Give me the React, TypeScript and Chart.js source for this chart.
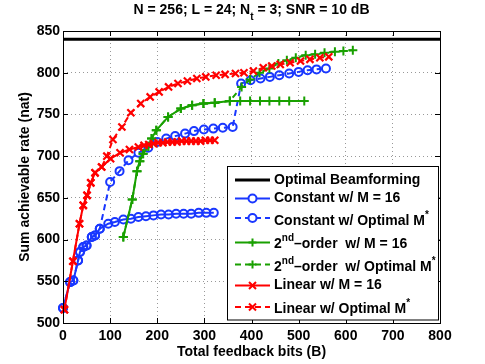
import React, { useEffect, useRef } from "react";
import { Chart, registerables } from "chart.js";

Chart.register(...registerables);

// ---------- data ----------
const optimalX = [0, 800];
const optimalY = [840, 840];

const constM16X = [0, 15, 22, 32, 36, 43, 50, 61, 68, 78, 96, 110, 128, 144, 160, 176, 192, 208, 224, 240, 256, 272, 288, 304, 320];
const constM16Y = [518, 549, 551, 575, 585, 591, 593, 603, 605, 613, 619, 621, 624, 625, 627, 628, 629, 630, 630, 631, 631, 631, 632, 632, 632];

const constOptX = [0, 15, 22, 32, 36, 43, 50, 61, 68, 78, 100, 120, 139, 160, 181, 200, 219, 238, 259, 278, 299, 319, 339, 360, 378, 398, 419, 439, 459, 480, 500, 519, 538, 558];
const constOptY = [518, 549, 551, 575, 585, 591, 593, 603, 605, 613, 669, 682, 695, 704, 710, 717, 721, 724, 727, 730, 732, 733, 734, 735, 787, 791, 793, 795, 797, 799, 801, 803, 804, 805];

const secondM16X = [128, 147, 157, 163, 170, 181, 188, 198, 223, 250, 274, 298, 322, 354, 376, 397, 418, 438, 459, 480, 512];
const secondM16Y = [603, 648, 682, 694, 703, 712, 721, 731, 747, 757, 761, 763, 764, 766, 766, 766, 766, 766, 766, 766, 766];

const secondOptX = [128, 147, 157, 163, 170, 181, 188, 198, 223, 250, 274, 298, 322, 354, 379, 397, 417, 438, 457, 475, 494, 515, 535, 555, 577, 595, 615];
const secondOptY = [603, 648, 682, 694, 703, 712, 721, 731, 747, 757, 761, 763, 764, 766, 783, 792, 800, 805, 811, 815, 818, 821, 822, 824, 825, 826, 827];

const linM16X = [3, 21, 35, 43, 51, 59, 68, 82, 101, 121, 141, 160, 172, 182, 192, 202, 212, 222, 232, 242, 252, 262, 272, 282, 292, 302, 312, 322];
const linM16Y = [516, 574, 619, 641, 653, 668, 680, 687, 697, 704, 708, 711, 713, 714, 715, 716, 716, 717, 717, 717, 718, 718, 718, 718, 718, 719, 719, 719];

const linOptX = [3, 21, 35, 43, 51, 59, 68, 82, 93, 106, 125, 144, 165, 185, 204, 224, 244, 264, 284, 303, 325, 344, 366, 384, 404, 425, 443, 461, 482, 504, 524, 545, 564];
const linOptY = [516, 574, 619, 641, 653, 668, 680, 687, 700, 720, 735, 752, 763, 771, 777, 783, 787, 790, 793, 795, 797, 798, 799, 800, 802, 806, 808, 810, 812, 814, 816, 818, 819];

const xTickValues = [0, 100, 200, 300, 400, 500, 600, 700, 800];
const yTickValues = [500, 550, 600, 650, 700, 750, 800, 850];

const titleMain1 = "N = 256; L = 24; N";
const titleSub = "t";
const titleMain2 = " = 3; SNR = 10 dB";
const xTitle = "Total feedback bits (B)";
const yTitle = "Sum achievable rate (nat)";

// ---------- styling ----------
const FONT = '"Liberation Sans", Arial, Helvetica, sans-serif';
const BLUE = "rgb(25,55,255)";
const GREEN = "rgb(25,160,0)";
const RED = "rgb(255,0,0)";
const DASH = [6, 4];

type Part = { t: string; sup?: boolean };
type LegendRow = { parts: Part[]; color: string; dash: number[]; marker: string | null; lineY: number; textY: number; width: number };

const legendRows: LegendRow[] = [
  { parts: [{ t: "Optimal Beamforming" }], color: "#000", dash: [], marker: null, lineY: 180, textY: 180, width: 3 },
  { parts: [{ t: "Constant w/ M = 16" }], color: BLUE, dash: [], marker: "circle", lineY: 198.5, textY: 198.5, width: 2 },
  { parts: [{ t: "Constant w/ Optimal M" }, { t: "*", sup: true }], color: BLUE, dash: DASH, marker: "circle", lineY: 218, textY: 221.5, width: 2 },
  { parts: [{ t: "2" }, { t: "nd", sup: true }, { t: "\u2013order  w/ M = 16" }], color: GREEN, dash: [], marker: "cross", lineY: 242.5, textY: 244.5, width: 2 },
  { parts: [{ t: "2" }, { t: "nd", sup: true }, { t: "\u2013order  w/ Optimal M" }, { t: "*", sup: true }], color: GREEN, dash: DASH, marker: "cross", lineY: 264.5, textY: 267, width: 2 },
  { parts: [{ t: "Linear w/ M = 16" }], color: RED, dash: [], marker: "crossRot", lineY: 285.5, textY: 285.5, width: 2 },
  { parts: [{ t: "Linear w/ Optimal M" }, { t: "*", sup: true }], color: RED, dash: DASH, marker: "crossRot", lineY: 307, textY: 309.5, width: 2 },
];

function pts(xs: number[], ys: number[]) {
  return xs.map((x, i) => ({ x, y: ys[i] }));
}

function drawMarker(ctx: CanvasRenderingContext2D, kind: string, x: number, y: number, color: string) {
  ctx.save();
  ctx.setLineDash([]);
  ctx.strokeStyle = color;
  ctx.lineWidth = 2;
  ctx.beginPath();
  if (kind === "circle") {
    ctx.lineWidth = 2;
    ctx.fillStyle = "#fff";
    ctx.arc(x, y, 4, 0, Math.PI * 2);
    ctx.fill();
    ctx.stroke();
  } else if (kind === "cross") {
    ctx.moveTo(x - 4, y);
    ctx.lineTo(x + 4, y);
    ctx.moveTo(x, y - 4);
    ctx.lineTo(x, y + 4);
    ctx.stroke();
  } else if (kind === "crossRot") {
    ctx.moveTo(x - 3.5, y - 3.5);
    ctx.lineTo(x + 3.5, y + 3.5);
    ctx.moveTo(x + 3.5, y - 3.5);
    ctx.lineTo(x - 3.5, y + 3.5);
    ctx.stroke();
  }
  ctx.restore();
}

function drawParts(ctx: CanvasRenderingContext2D, parts: Part[], x: number, y: number) {
  let cx = x;
  for (const p of parts) {
    if (p.sup) {
      ctx.font = `bold 10px ${FONT}`;
      ctx.fillText(p.t, cx, y - 6);
    } else {
      ctx.font = `bold 14px ${FONT}`;
      ctx.fillText(p.t, cx, y);
    }
    cx += ctx.measureText(p.t).width;
  }
}

const decorPlugin = {
  id: "matlabDecor",
  afterDraw(chart: any) {
    const ctx: CanvasRenderingContext2D = chart.ctx;
    const a = chart.chartArea;
    const xs = chart.scales.x;
    const ys = chart.scales.y;
    ctx.save();
    // box
    ctx.strokeStyle = "#000";
    ctx.lineWidth = 1;
    ctx.setLineDash([]);
    ctx.strokeRect(Math.round(a.left) + 0.5, Math.round(a.top) + 0.5, Math.round(a.right - a.left), Math.round(a.bottom - a.top));
    // inward ticks
    ctx.beginPath();
    for (const v of xTickValues) {
      const px = Math.round(xs.getPixelForValue(v)) + 0.5;
      ctx.moveTo(px, a.bottom);
      ctx.lineTo(px, a.bottom - 5);
      ctx.moveTo(px, a.top);
      ctx.lineTo(px, a.top + 5);
    }
    for (const v of yTickValues) {
      const py = Math.round(ys.getPixelForValue(v)) + 0.5;
      ctx.moveTo(a.left, py);
      ctx.lineTo(a.left + 5, py);
      ctx.moveTo(a.right, py);
      ctx.lineTo(a.right - 5, py);
    }
    ctx.stroke();

    // legend
    const lx = 227.5, ly = 166.5, lw = 211, lh = 153.5;
    ctx.fillStyle = "#fff";
    ctx.fillRect(lx, ly, lw, lh);
    ctx.strokeStyle = "#000";
    ctx.lineWidth = 1;
    ctx.strokeRect(lx, ly, lw, lh);
    for (const r of legendRows) {
      ctx.save();
      ctx.strokeStyle = r.color;
      ctx.lineWidth = r.width;
      ctx.setLineDash(r.dash);
      ctx.beginPath();
      ctx.moveTo(235, r.lineY);
      ctx.lineTo(270, r.lineY);
      ctx.stroke();
      ctx.restore();
      if (r.marker) drawMarker(ctx, r.marker, 252.5, r.lineY, r.color);
      ctx.fillStyle = "#000";
      ctx.textBaseline = "middle";
      ctx.textAlign = "left";
      drawParts(ctx, r.parts, 274, r.textY);
    }

    // title with subscript
    ctx.fillStyle = "#000";
    ctx.textBaseline = "alphabetic";
    ctx.textAlign = "left";
    ctx.font = `bold 14px ${FONT}`;
    const w1 = ctx.measureText(titleMain1).width;
    const w3 = ctx.measureText(titleMain2).width;
    ctx.font = `bold 10px ${FONT}`;
    const w2 = ctx.measureText(titleSub).width;
    const total = w1 + w2 + w3;
    const cxm = (a.left + a.right) / 2;
    let tx = cxm - total / 2;
    ctx.font = `bold 14px ${FONT}`;
    ctx.fillText(titleMain1, tx, 14);
    tx += w1;
    ctx.font = `bold 10px ${FONT}`;
    ctx.fillText(titleSub, tx, 19.5);
    tx += w2;
    ctx.font = `bold 14px ${FONT}`;
    ctx.fillText(titleMain2, tx, 14);

    // axis titles
    ctx.textAlign = "center";
    ctx.textBaseline = "middle";
    ctx.fillText(xTitle, cxm, 352);
    ctx.save();
    ctx.translate(25, (a.top + a.bottom) / 2);
    ctx.rotate(-Math.PI / 2);
    ctx.fillText(yTitle, 0, 0);
    ctx.restore();
    ctx.restore();
  },
};

export default function App() {
  const ref = useRef<HTMLCanvasElement | null>(null);
  useEffect(() => {
    if (!ref.current) return;
    Chart.defaults.font.family = FONT;
    const base = { clip: 8, tension: 0, fill: false, pointHoverRadius: 0 };
    const circ = { pointStyle: "circle", pointRadius: 4, pointBorderWidth: 2, pointBorderColor: BLUE, pointBackgroundColor: "rgba(255,255,255,0)" };
    const plus = { pointStyle: "cross", pointRadius: 4.5, pointBorderWidth: 2, pointBorderColor: GREEN };
    const ex = { pointStyle: "crossRot", pointRadius: 5, pointBorderWidth: 2.2, pointBorderColor: RED };
    const chart = new Chart(ref.current, {
      type: "line",
      data: {
        datasets: [
          { ...base, label: "Optimal Beamforming", data: pts(optimalX, optimalY), borderColor: "#000", borderWidth: 3, pointRadius: 0, order: 7 },
          { ...base, ...circ, label: "Constant w/ M = 16", data: pts(constM16X, constM16Y), borderColor: BLUE, borderWidth: 2, order: 6 },
          { ...base, ...circ, label: "Constant w/ Optimal M*", data: pts(constOptX, constOptY), borderColor: BLUE, borderWidth: 2, borderDash: DASH, order: 5 },
          { ...base, ...plus, label: "2nd-order w/ M = 16", data: pts(secondM16X, secondM16Y), borderColor: GREEN, borderWidth: 2, order: 4 },
          { ...base, ...plus, label: "2nd-order w/ Optimal M*", data: pts(secondOptX, secondOptY), borderColor: GREEN, borderWidth: 2, borderDash: DASH, order: 3 },
          { ...base, ...ex, label: "Linear w/ M = 16", data: pts(linM16X, linM16Y), borderColor: RED, borderWidth: 2, order: 2 },
          { ...base, ...ex, label: "Linear w/ Optimal M*", data: pts(linOptX, linOptY), borderColor: RED, borderWidth: 2, borderDash: DASH, order: 1 },
        ] as any,
      },
      options: {
        responsive: false,
        animation: false,
        events: [],
        layout: { padding: { top: 31, right: 45, left: 0, bottom: 0 } },
        plugins: { legend: { display: false }, title: { display: false }, tooltip: { enabled: false } },
        scales: {
          x: {
            type: "linear",
            min: 0,
            max: 800,
            afterFit: (s: any) => { s.height = 41; },
            afterBuildTicks: (s: any) => { s.ticks = xTickValues.map((v) => ({ value: v })); },
            ticks: { color: "#000", font: { size: 14, weight: "bold", family: FONT }, padding: 5, maxRotation: 0, autoSkip: false },
            grid: { color: "rgba(0,0,0,0.4)", lineWidth: 1, drawTicks: false },
            border: { display: false, dash: [1, 3] },
          },
          y: {
            type: "linear",
            min: 500,
            max: 850,
            afterFit: (s: any) => { s.width = 63; },
            afterBuildTicks: (s: any) => { s.ticks = yTickValues.map((v) => ({ value: v })); },
            ticks: { color: "#000", font: { size: 14, weight: "bold", family: FONT }, padding: 3, autoSkip: false },
            grid: { color: "rgba(0,0,0,0.4)", lineWidth: 1, drawTicks: false },
            border: { display: false, dash: [1, 3] },
          },
        },
      } as any,
      plugins: [decorPlugin],
    });
    return () => chart.destroy();
  }, []);
  return (
    <div style={{ position: "fixed", left: 0, top: 0, width: 485, height: 364, background: "#fff" }}>
      <canvas ref={ref} width={485} height={364} style={{ display: "block", width: 485, height: 364 }} />
    </div>
  );
}
